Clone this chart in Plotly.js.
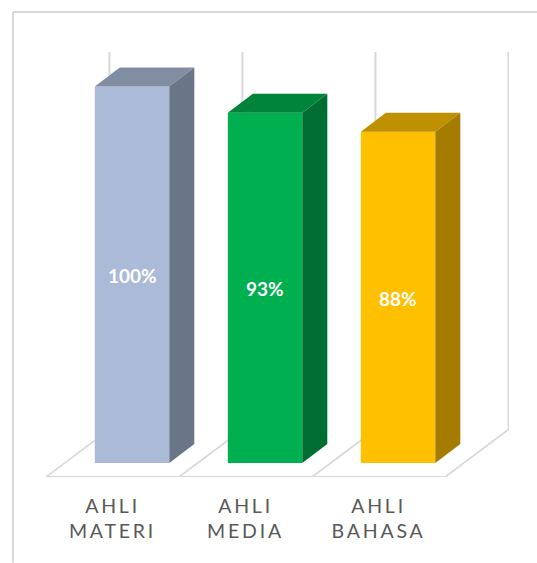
<!DOCTYPE html>
<html>
<head>
<meta charset="utf-8">
<script src="https://cdn.plot.ly/plotly-3.0.1.min.js"></script>
<style>
  html, body { margin: 0; padding: 0; background: #fff; }
  #chart { width: 537px; height: 563px; }
  .xtick text { letter-spacing: 2.8px; }
</style>
</head>
<body>
<div id="chart"></div>
<script>
// Expert validation scores per reviewer group
const categories = ["AHLI<br>MATERI", "AHLI<br>MEDIA", "AHLI<br>BAHASA"];
const values = [100, 93, 88];
const frontColors = ["#ABBAD7", "#00B050", "#FFC000"];
const topColors = ["#808DA3", "#00843C", "#BF9000"];
const sideColors = ["#6A7588", "#006E33", "#A67C00"];

// Extrusion of the bars and of the floor, in axis units
const barWidth = 0.56;
const barShift = 0.147;
const barDepthX = 0.188;
const barDepthY = 5.04;
const floorFront = -3.7;
const floorBack = 8.9;
const floorDepthX = 0.477;
const wallTop = 109.16;
const lineColor = "#D9D9D9";

const slots = categories.map((_, i) => i);
const GRID = { type: "line", xref: "x", yref: "y", layer: "below", line: { color: lineColor, width: 2 } };
const FLOOR_EDGE = { ...GRID, line: { color: lineColor, width: 1.7 } };

// Back wall uprights and floor edges
const edgeStops = [-0.5, 0.5, 1.5, 2.5];
const shapes = [];
edgeStops.forEach(x => {
  shapes.push({ ...GRID, x0: x + floorDepthX, x1: x + floorDepthX, y0: floorBack, y1: wallTop });
  shapes.push({ ...FLOOR_EDGE, x0: x, x1: x + floorDepthX, y0: floorFront, y1: floorBack });
});
shapes.push({ ...GRID, x0: -0.5, x1: 2.5, y0: floorFront, y1: floorFront });

// Outer frame along the top and left of the page
const FRAME = { type: "line", xref: "paper", yref: "paper", line: { color: lineColor, width: 2 } };
const px = x => (x - 46) / 463;
const py = y => (477.5 - y) / 425.5;
shapes.push({ ...FRAME, x0: px(13), x1: px(13), y0: py(12), y1: py(563) });
shapes.push({ ...FRAME, x0: px(13), x1: px(537), y0: py(12), y1: py(12) });

const traces = [{
  type: "bar",
  x: slots,
  y: values,
  width: barWidth,
  offset: barShift - barWidth / 2,
  marker: { color: frontColors, line: { width: 0 } },
  hoverinfo: "skip",
  showlegend: false
}];

// Top and side faces of each extruded bar
values.forEach((v, i) => {
  const l = i + barShift - barWidth / 2;
  const r = l + barWidth;
  traces.push({
    type: "scatter", mode: "lines", fill: "toself", hoverinfo: "skip", showlegend: false,
    x: [l, r, r + barDepthX, l + barDepthX, l],
    y: [v, v, v + barDepthY, v + barDepthY, v],
    fillcolor: topColors[i], line: { width: 0, color: topColors[i] }
  });
  traces.push({
    type: "scatter", mode: "lines", fill: "toself", hoverinfo: "skip", showlegend: false,
    x: [r, r + barDepthX, r + barDepthX, r, r],
    y: [0, barDepthY, v + barDepthY, v, 0],
    fillcolor: sideColors[i], line: { width: 0, color: sideColors[i] }
  });
});

// Value labels centred on the front face of each bar
const annotations = values.map((v, i) => ({
  x: i + barShift,
  y: v / 2,
  xref: "x",
  yref: "y",
  text: v + "%",
  showarrow: false,
  yshift: -1,
  font: { family: "Lato, sans-serif", size: 19, color: "#FFFFFF", weight: 700 }
}));

const layout = {
  width: 537,
  height: 563,
  margin: { l: 46, r: 28, t: 52, b: 85.5, pad: 0 },
  paper_bgcolor: "#FFFFFF",
  plot_bgcolor: "rgba(0,0,0,0)",
  showlegend: false,
  shapes: shapes,
  annotations: annotations,
  xaxis: {
    range: [-0.5, 2.981],
    tickmode: "array",
    tickvals: slots,
    ticktext: categories,
    tickangle: 0,
    ticks: "",
    ticklabelstandoff: 15,
    showgrid: false,
    zeroline: false,
    showline: false,
    fixedrange: true,
    tickfont: { family: "Lato, sans-serif", size: 19.5, color: "#595959" }
  },
  yaxis: {
    range: [-3.7, 109.16],
    visible: false,
    showgrid: false,
    zeroline: false,
    fixedrange: true
  }
};

Plotly.newPlot("chart", traces, layout, { displayModeBar: false, staticPlot: true });
</script>
</body>
</html>
